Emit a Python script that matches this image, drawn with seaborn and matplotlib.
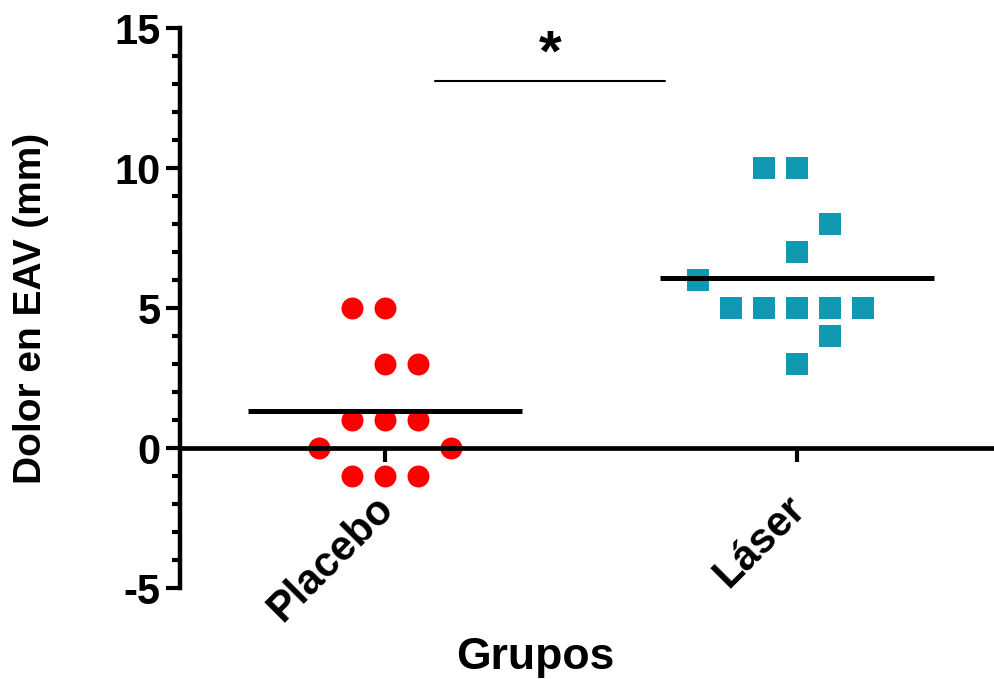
import numpy as np
import pandas as pd
import matplotlib
matplotlib.use("Agg")
import matplotlib.pyplot as plt
import matplotlib.transforms as mtransforms
import seaborn as sns

# valores (EAV en mm)
groups = ["Placebo", "Láser"]
placebo = [5, 5, 3, 3, 1, 1, 1, 0, 0, -1, -1, -1]
laser = [10, 10, 8, 7, 6, 5, 5, 5, 5, 5, 4, 3]
# columna (hueco) de cada punto dentro del grupo, como en el dot plot original
placebo_slot = [-1, 0, 0, 1, -1, 0, 1, -2, 2, -1, 0, 1]
laser_slot = [-1, 0, 1, 0, -3, -2, -1, 0, 1, 2, 1, 0]
yticks = [-5, 0, 5, 10, 15]
sig_label = "*"
ylabel = "Dolor en EAV (mm)"
xlabel = "Grupos"

slot_w = 0.08
red = "#FF0000"
teal = "#1199B4"

sns.set_style("white")
plt.rcParams["font.family"] = ["Liberation Sans", "DejaVu Sans"]
plt.rcParams["font.weight"] = "bold"
plt.rcParams["axes.unicode_minus"] = False
for k in ["text.color", "axes.labelcolor", "xtick.color", "ytick.color", "axes.edgecolor"]:
    plt.rcParams[k] = "black"

df = pd.DataFrame({
    "grupo": [groups[0]] * len(placebo) + [groups[1]] * len(laser),
    "eav": placebo + laser,
    "slot": placebo_slot + laser_slot,
})
df["pos"] = df["grupo"].map({g: i for i, g in enumerate(groups)}) + df["slot"] * slot_w

fig = plt.figure(figsize=(9.94, 6.79), dpi=100)
ax = fig.add_axes([0.1811, 0.134, 0.8189, 0.8247])

sns.scatterplot(data=df[df.grupo == groups[0]], x="pos", y="eav", color=red,
                marker="o", s=250, linewidth=0, ax=ax, zorder=1, legend=False)
sns.scatterplot(data=df[df.grupo == groups[1]], x="pos", y="eav", color=teal,
                marker="s", s=265, linewidth=0, ax=ax, zorder=1, legend=False)

# lineas de la media
means = df.groupby("grupo", sort=False)["eav"].mean()
for i, g in enumerate(groups):
    ax.hlines(means[g], i - 0.333, i + 0.333, color="black", lw=3.6, zorder=3)

# barra de significancia
ax.plot([0.121, 0.68], [13.1, 13.1], color="black", lw=1.5)
ax.text(0.40, 13.05, sig_label, ha="center", va="bottom", fontsize=42, fontweight="bold")

ax.set_xlim(-0.498, 1.478)
ax.set_ylim(-5, 15)
ax.set_yticks(yticks)
ax.set_yticks(np.arange(-5, 16, 1), minor=True)
ax.set_xticks(range(len(groups)))
ax.set_xticklabels(groups)

for s in ["top", "right"]:
    ax.spines[s].set_visible(False)
ax.spines["bottom"].set_position(("data", 0))
ax.spines["bottom"].set_linewidth(3.4)
ax.spines["left"].set_linewidth(3.2)
ax.spines["bottom"].set_zorder(2.5)

ax.tick_params(axis="y", which="major", length=10, width=3, pad=4, labelsize=30,
               direction="out", left=True)
ax.tick_params(axis="y", which="minor", length=6, width=3, direction="out", left=True)
ax.tick_params(axis="x", which="major", length=10, width=3, pad=19, labelsize=30,
               direction="out", bottom=True)

offset = mtransforms.ScaledTranslation(16 / 100, 0, fig.dpi_scale_trans)
for lab in ax.get_xticklabels():
    lab.set_rotation(45)
    lab.set_ha("right")
    lab.set_va("top")
    lab.set_fontweight("bold")
    lab.set_transform(lab.get_transform() + offset)
for lab in ax.get_yticklabels():
    lab.set_fontweight("bold")

ax.set_ylabel(ylabel, fontsize=28, fontweight="bold")
ax.yaxis.set_label_coords(-0.161, 0.5)
ax.set_xlabel(xlabel, fontsize=32, fontweight="bold")
ax.xaxis.set_label_coords(0.437, -0.088)

fig.savefig("out.png", dpi=100)
